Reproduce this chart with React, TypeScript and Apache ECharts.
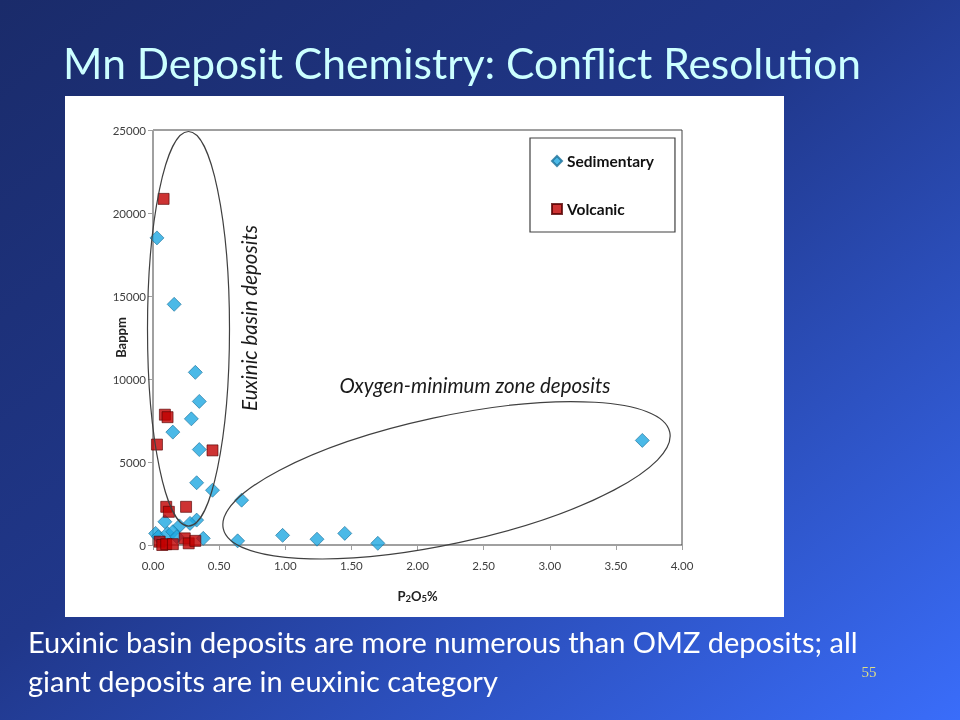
import React, { useEffect, useRef } from "react";
import * as echarts from "echarts";

// Sedimentary deposits: [P2O5 %, Ba ppm]
const sedimentary: [number, number][] = [
  [0.03, 18500], [0.16, 14500], [0.32, 10400], [0.35, 8650], [0.29, 7600],
  [0.15, 6800], [0.35, 5750], [0.33, 3750], [0.45, 3300], [0.67, 2700],
  [0.09, 1400], [0.33, 1500], [0.28, 1300], [0.20, 1150], [0.02, 700],
  [0.04, 500], [0.11, 700], [0.15, 800], [0.18, 500], [0.38, 400],
  [0.64, 250], [0.98, 580], [1.24, 350], [1.45, 700], [1.70, 100],
  [3.70, 6300],
];

// Volcanic deposits: [P2O5 %, Ba ppm]
const volcanic: [number, number][] = [
  [0.08, 20850], [0.09, 7850], [0.11, 7700], [0.03, 6050], [0.45, 5700],
  [0.10, 2300], [0.12, 2000], [0.25, 2300], [0.05, 200], [0.07, 0],
  [0.10, 50], [0.15, 50], [0.24, 400], [0.27, 100], [0.32, 250],
];

const seriesNames = ["Sedimentary", "Volcanic"];
const xRange = { min: 0, max: 4, interval: 0.5 };
const yRange = { min: 0, max: 25000, interval: 5000 };

const titleText = "Mn Deposit Chemistry: Conflict Resolution";
const captionLines = [
  "Euxinic basin deposits are more numerous than OMZ deposits; all",
  "giant deposits are in euxinic category",
];
const pageNumber = "55";
const euxinicLabel = "Euxinic basin deposits";
const omzLabel = "Oxygen-minimum zone deposits";

const FONT = "Lato, 'Open Sans', sans-serif";

export default function App() {
  const ref = useRef<HTMLDivElement>(null);

  useEffect(() => {
    if (!ref.current) return;
    const chart = echarts.init(ref.current, undefined, { renderer: "svg" });

    const option: any = {
      animation: false,
      textStyle: { fontFamily: FONT },
      grid: {
        left: 153,
        top: 130,
        width: 529,
        height: 415,
        show: true,
        borderColor: "#404040",
        borderWidth: 1,
        backgroundColor: "transparent",
      },
      legend: {
        left: 530,
        top: 138,
        orient: "vertical",
        itemGap: 32,
        itemWidth: 10,
        itemHeight: 10,
        padding: [15, 21, 15, 21],
        borderColor: "#404040",
        borderWidth: 1.2,
        backgroundColor: "#ffffff",
        data: seriesNames,
        textStyle: {
          fontFamily: FONT,
          fontWeight: "bold",
          fontSize: 15.5,
          color: "#111111",
        },
      },
      xAxis: {
        type: "value",
        min: xRange.min,
        max: xRange.max,
        interval: xRange.interval,
        splitLine: { show: false },
        axisLine: { show: true, lineStyle: { color: "#a0a0a0", width: 1 } },
        axisTick: { show: true, length: 5, lineStyle: { color: "#a0a0a0" } },
        axisLabel: {
          color: "#404040",
          fontSize: 11.5,
          fontFamily: FONT,
          margin: 14,
          formatter: (v: number) => v.toFixed(2),
        },
        name: "{n|P}{s|2}{n|O}{s|5}{n|%}",
        nameLocation: "middle",
        nameGap: 44,
        nameMoveOverlap: false,
        nameTextStyle: {
          rich: {
            n: { fontSize: 13, fontWeight: "bold", color: "#222", fontFamily: FONT },
            s: { fontSize: 9.5, fontWeight: "bold", color: "#222", fontFamily: FONT, verticalAlign: "bottom", padding: [4, 0, 0, 0] },
          },
        },
      },
      yAxis: {
        type: "value",
        min: yRange.min,
        max: yRange.max,
        interval: yRange.interval,
        splitLine: { show: false },
        axisLine: { show: true, lineStyle: { color: "#a0a0a0", width: 1 } },
        axisTick: { show: true, length: 5, lineStyle: { color: "#a0a0a0" } },
        axisLabel: {
          color: "#404040",
          fontSize: 11.5,
          fontFamily: FONT,
          margin: 7,
          formatter: (v: number) => String(v),
        },
        name: "Bappm",
        nameLocation: "middle",
        nameGap: 26,
        nameMoveOverlap: false,
        nameTextStyle: {
          fontSize: 13,
          fontWeight: "bold",
          color: "#222",
          fontFamily: FONT,
        },
      },
      series: [
        {
          name: seriesNames[0],
          type: "scatter",
          symbol: "diamond",
          symbolSize: [14, 14],
          data: sedimentary,
          z: 3,
          itemStyle: { color: "#1ea7e1", borderColor: "#1a6f99", borderWidth: 0.8 },
        },
        {
          name: seriesNames[1],
          type: "scatter",
          symbol: "rect",
          symbolSize: [11, 11],
          data: volcanic,
          z: 4,
          itemStyle: { color: "#c00000", borderColor: "#550000", borderWidth: 0.8 },
        },
      ],
      graphic: [
        {
          type: "rect",
          z: -10,
          silent: true,
          shape: { x: 0, y: 0, width: 960, height: 720 },
          style: {
            fill: new echarts.graphic.LinearGradient(0, 0, 1, 1, [
              { offset: 0, color: "#1a2b6a" },
              { offset: 0.45, color: "#20378a" },
              { offset: 1, color: "#3a6dfa" },
            ]),
          },
        },
        {
          type: "rect",
          z: -9,
          silent: true,
          shape: { x: 65, y: 96, width: 719, height: 521 },
          style: { fill: "#ffffff" },
        },
        {
          type: "text",
          z: 10,
          x: 63,
          y: 62,
          style: {
            text: titleText,
            fill: "#ccffff",
            fontSize: 42.5,
            fontFamily: FONT,
            align: "left",
            verticalAlign: "middle",
          },
        },
        {
          type: "text",
          z: 10,
          x: 28,
          y: 641,
          style: {
            text: captionLines[0],
            fill: "#ffffff",
            fontSize: 29,
            fontFamily: FONT,
            align: "left",
            verticalAlign: "middle",
          },
        },
        {
          type: "text",
          z: 10,
          x: 28,
          y: 680,
          style: {
            text: captionLines[1],
            fill: "#ffffff",
            fontSize: 29,
            fontFamily: FONT,
            align: "left",
            verticalAlign: "middle",
          },
        },
        {
          type: "text",
          z: 10,
          x: 869,
          y: 672,
          style: {
            text: pageNumber,
            fill: "#dedc86",
            fontSize: 15,
            fontFamily: "'Liberation Serif', serif",
            align: "center",
            verticalAlign: "middle",
          },
        },
        {
          type: "ellipse",
          z: 5,
          silent: true,
          shape: { cx: 188.5, cy: 328.8, rx: 41, ry: 197.3 },
          style: { fill: "none", stroke: "#404040", lineWidth: 1.2 },
        },
        {
          type: "ellipse",
          z: 5,
          silent: true,
          x: 446.5,
          y: 480.3,
          rotation: (12.2 * Math.PI) / 180,
          shape: { cx: 0, cy: 0, rx: 228.5, ry: 63.6 },
          style: { fill: "none", stroke: "#404040", lineWidth: 1.2 },
        },
        {
          type: "text",
          z: 6,
          x: 249,
          y: 318,
          rotation: Math.PI / 2,
          style: {
            text: euxinicLabel,
            fill: "#1a1a1a",
            fontSize: 20.5,
            fontStyle: "italic",
            fontFamily: FONT,
            align: "center",
            verticalAlign: "middle",
          },
        },
        {
          type: "text",
          z: 6,
          x: 475,
          y: 385,
          style: {
            text: omzLabel,
            fill: "#1a1a1a",
            fontSize: 20.5,
            fontStyle: "italic",
            fontFamily: FONT,
            align: "center",
            verticalAlign: "middle",
          },
        },
      ],
    };

    chart.setOption(option);
    return () => chart.dispose();
  }, []);

  return (
    <div
      ref={ref}
      style={{ position: "fixed", left: 0, top: 0, width: 960, height: 720 }}
    />
  );
}
